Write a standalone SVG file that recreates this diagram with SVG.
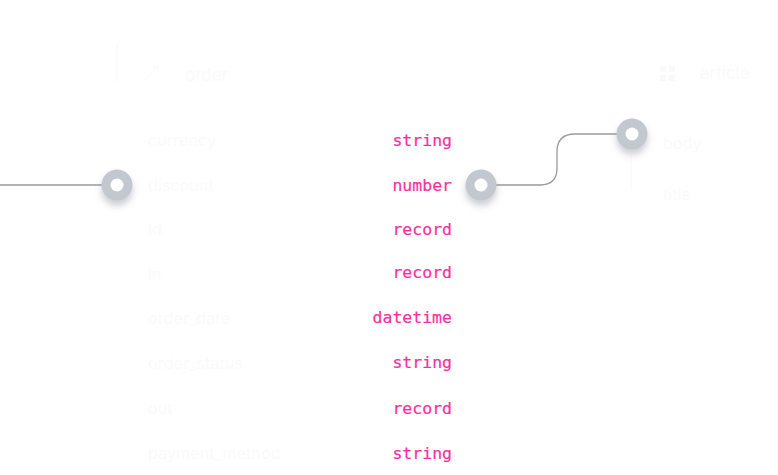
<svg xmlns="http://www.w3.org/2000/svg" width="778" height="475" viewBox="0 0 778 475">
<defs>
<style>
.type{font-family:"DejaVu Sans Mono","Liberation Mono",monospace;font-size:16.5px;fill:#f72fa3;stroke:#f72fa3;stroke-width:0.2px;text-anchor:end}
.field{font-family:Inter,"Liberation Sans",sans-serif;font-size:16.2px;fill:#fafafb}
.head{font-family:Inter,"Liberation Sans",sans-serif;font-size:17px;fill:#fafafb}
.faint{stroke:#f8f8f9;stroke-width:1;fill:none}
.conn{stroke:#9a9a9e;stroke-width:1.3;fill:none}
.ring{fill:#c3c7d0}
.hole{fill:#ffffff}
.ico{fill:#f9f9fa}
</style>
<filter id="sh" x="-80%" y="-80%" width="260%" height="260%">
<feDropShadow dx="0" dy="5" stdDeviation="3.5" flood-color="#6b7080" flood-opacity="0.35"/>
</filter>
</defs>
<rect width="778" height="475" fill="#ffffff"/>
<g id="connectors">
<path class="conn" d="M0 185 H103"/>
<path class="conn" d="M496 185 H540 Q557 185 557 168 V152 Q557 134 575 134 H618"/>
</g>
<g id="order">
<path class="faint" d="M117 43 V82"/>
<path class="faint" d="M145 80 L158 67 M153 67 H158 V72" stroke-width="2"/>
<text class="head" x="185" y="81">order</text>
<text class="field" x="148" y="146">currency</text>
<text class="field" x="148" y="191">discount</text>
<text class="field" x="148" y="235">id</text>
<text class="field" x="148" y="280">in</text>
<text class="field" x="148" y="324">order_date</text>
<text class="field" x="148" y="369">order_status</text>
<text class="field" x="148" y="414">out</text>
<text class="field" x="148" y="459">payment_method</text>
<text class="type" x="452" y="146">string</text>
<text class="type" x="452" y="191">number</text>
<text class="type" x="452" y="235">record</text>
<text class="type" x="452" y="278">record</text>
<text class="type" x="452" y="323">datetime</text>
<text class="type" x="452" y="368">string</text>
<text class="type" x="452" y="414">record</text>
<text class="type" x="452" y="459">string</text>
</g>
<g id="article">
<path class="faint" d="M631 155 V190"/>
<rect class="ico" x="660" y="66" width="6" height="6"/>
<rect class="ico" x="669" y="66" width="6" height="6"/>
<rect class="ico" x="660" y="75" width="6" height="6"/>
<rect class="ico" x="669" y="75" width="6" height="6"/>
<text class="head" x="700" y="79">article</text>
<text class="field" x="663" y="149">body</text>
<text class="field" x="663" y="200">title</text>
</g>
<g id="port-order-discount" filter="url(#sh)">
<circle class="ring" cx="117" cy="185" r="15.5"/>
<circle class="hole" cx="117" cy="185" r="6.5"/>
</g>
<g id="port-discount-type" filter="url(#sh)">
<circle class="ring" cx="481" cy="185" r="15.5"/>
<circle class="hole" cx="481" cy="185" r="6.5"/>
</g>
<g id="port-article" filter="url(#sh)">
<circle class="ring" cx="632" cy="134" r="15.5"/>
<circle class="hole" cx="632" cy="134" r="6.5"/>
</g>
</svg>
